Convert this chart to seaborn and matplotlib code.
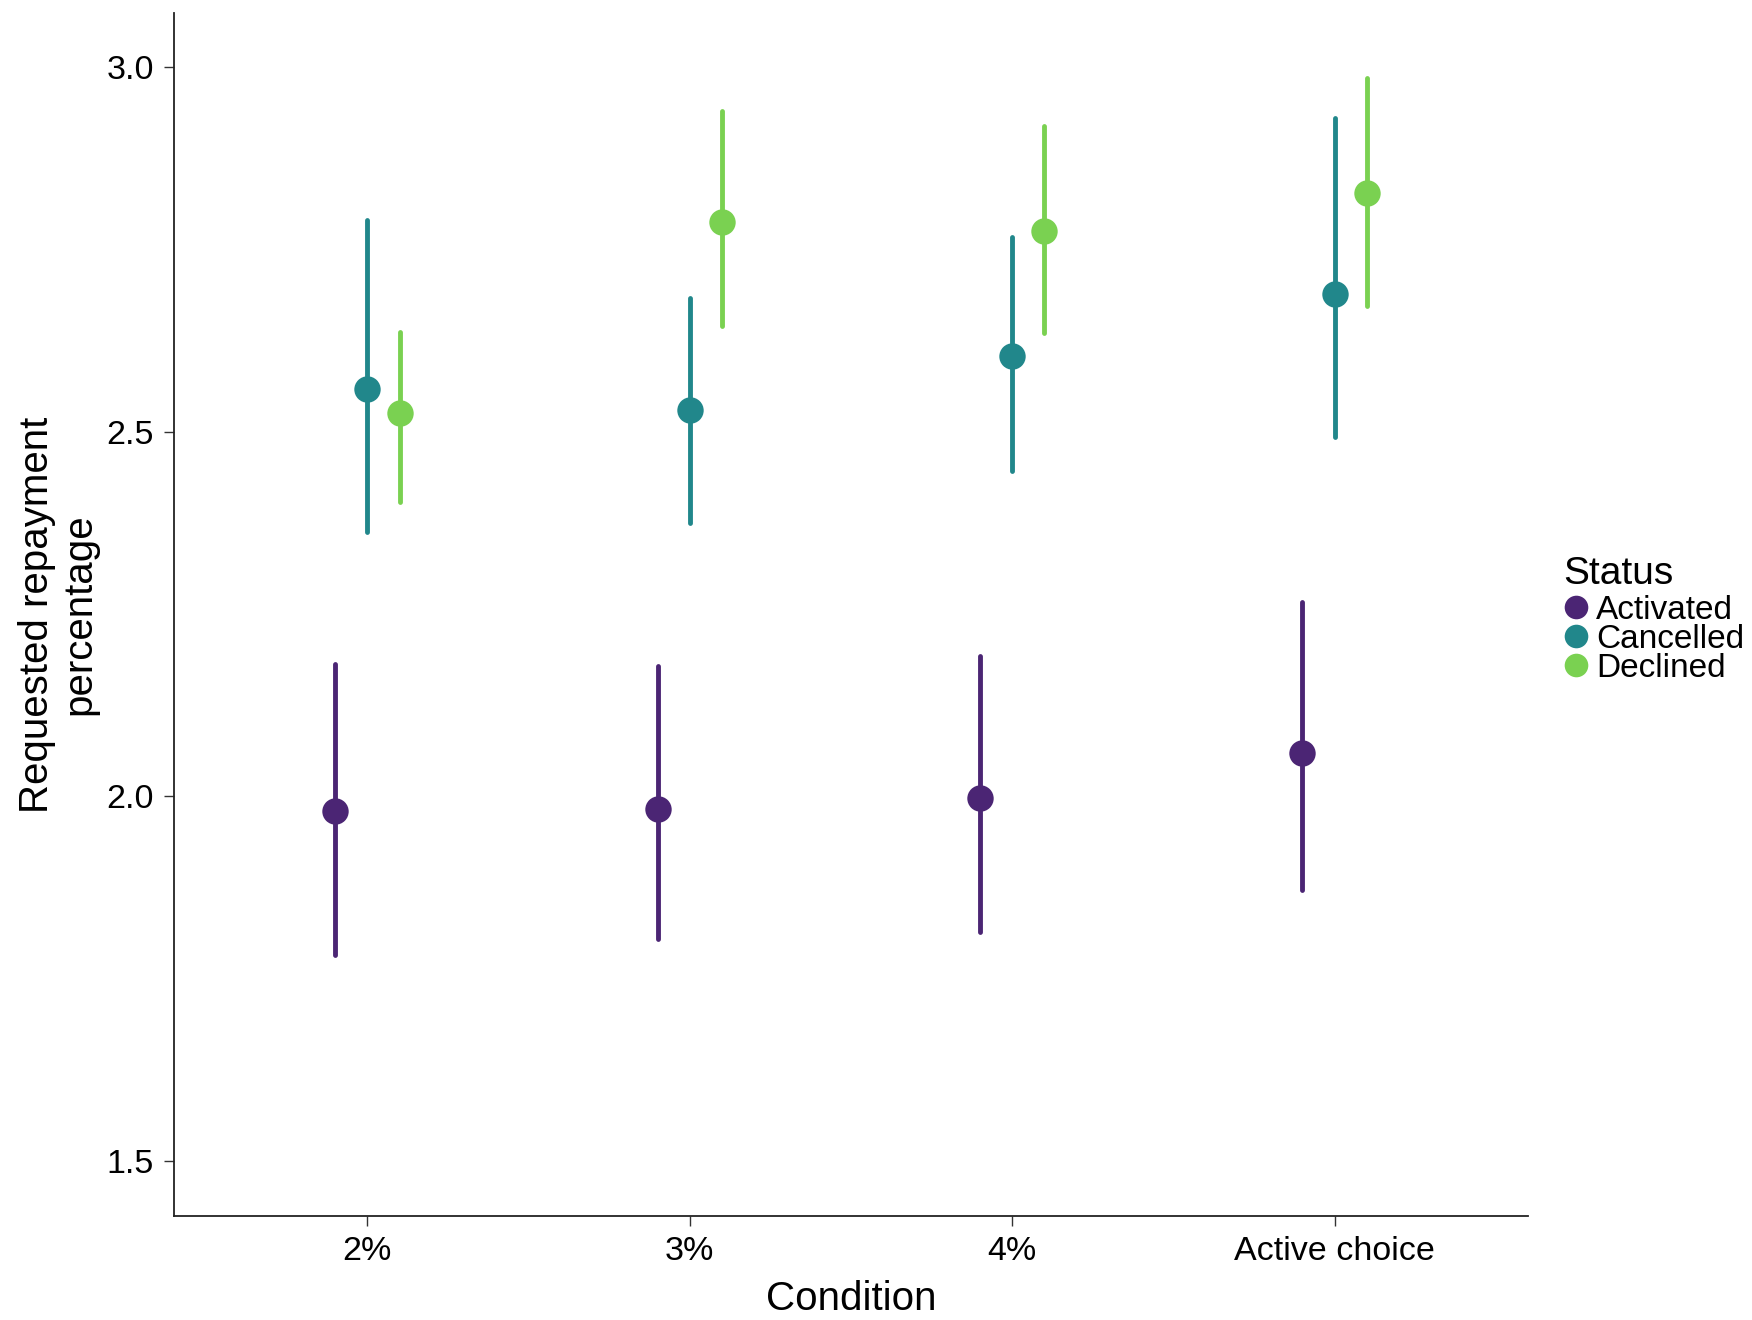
import numpy as np
import pandas as pd
import matplotlib
matplotlib.use("Agg")
import matplotlib.pyplot as plt
from matplotlib.lines import Line2D
import seaborn as sns

# Group means with lower/upper interval bounds per condition
conditions = ["2%", "3%", "4%", "Active choice"]
statuses = ["Activated", "Cancelled", "Declined"]

activated_mean = [1.980, 1.982, 1.998, 2.059]
activated_lo = [1.782, 1.805, 1.814, 1.872]
activated_hi = [2.181, 2.179, 2.192, 2.267]

cancelled_mean = [2.559, 2.529, 2.604, 2.689]
cancelled_lo = [2.363, 2.375, 2.446, 2.493]
cancelled_hi = [2.790, 2.683, 2.767, 2.930]

declined_mean = [2.526, 2.787, 2.775, 2.827]
declined_lo = [2.404, 2.645, 2.635, 2.672]
declined_hi = [2.636, 2.940, 2.919, 2.985]

palette = ["#4B2574", "#21878B", "#7AD151"]

# Long-form table: each cell carries its lower bound, mean and upper bound,
# so the median is the mean and (min, max) is the interval.
series = {
    "Activated": (activated_lo, activated_mean, activated_hi),
    "Cancelled": (cancelled_lo, cancelled_mean, cancelled_hi),
    "Declined": (declined_lo, declined_mean, declined_hi),
}
rows = []
for status, (lo, mean, hi) in series.items():
    for i, cond in enumerate(conditions):
        for v in (lo[i], mean[i], hi[i]):
            rows.append({"Condition": cond, "Status": status, "value": v})
df = pd.DataFrame(rows)

sns.set_theme(style="white")
plt.rcParams["font.family"] = ["Liberation Sans", "DejaVu Sans"]

fig = plt.figure(figsize=(17.52, 13.2), dpi=100)
ax = fig.add_axes([174 / 1752, 104 / 1320, (1528 - 174) / 1752, (1216 - 13) / 1320])

sns.pointplot(
    data=df, x="Condition", y="value", hue="Status",
    order=conditions, hue_order=statuses, palette=palette,
    estimator="median", errorbar=lambda v: (v.min(), v.max()),
    dodge=0.2, linestyle="none", markers="o",
    markersize=19, markeredgewidth=0,
    err_kws={"linewidth": 3.5},
    legend=False, ax=ax,
)

ax.set_xlim(-0.6, 3.6)
ax.set_ylim(1.4246, 3.074)
ax.set_yticks([1.5, 2.0, 2.5, 3.0])
ax.set_yticklabels(["1.5", "2.0", "2.5", "3.0"])

for side in ("top", "right"):
    ax.spines[side].set_visible(False)
for side in ("left", "bottom"):
    ax.spines[side].set_color("#222222")
    ax.spines[side].set_linewidth(1.3)

ax.tick_params(axis="both", which="major", length=7, width=1.0,
               color="#333333", labelsize=24.5, labelcolor="black", pad=7.5,
               left=True, bottom=True)

ax.set_xlabel("Condition", fontsize=29, labelpad=9, color="black")
ax.set_ylabel("Requested repayment\npercentage", fontsize=29, labelpad=6,
              color="black", linespacing=1.12)

# Legend: heading drawn as its own text, entries packed tightly below it
fig.text(1563 / 1752, 1 - 584 / 1320, "Status", fontsize=28,
         ha="left", va="baseline", color="black")
handles = [Line2D([], [], marker="o", linestyle="none", markersize=17,
                  markeredgewidth=0, color=c) for c in palette]
leg = fig.legend(
    handles, statuses,
    loc="upper left", bbox_to_anchor=(1563 / 1752, 1 - 595 / 1320),
    frameon=False, borderpad=0, borderaxespad=0,
    handlelength=0.8, handletextpad=0.2, labelspacing=-0.064,
    alignment="left", fontsize=24, labelcolor="black",
)

fig.savefig("out.png", dpi=100, facecolor="white")
